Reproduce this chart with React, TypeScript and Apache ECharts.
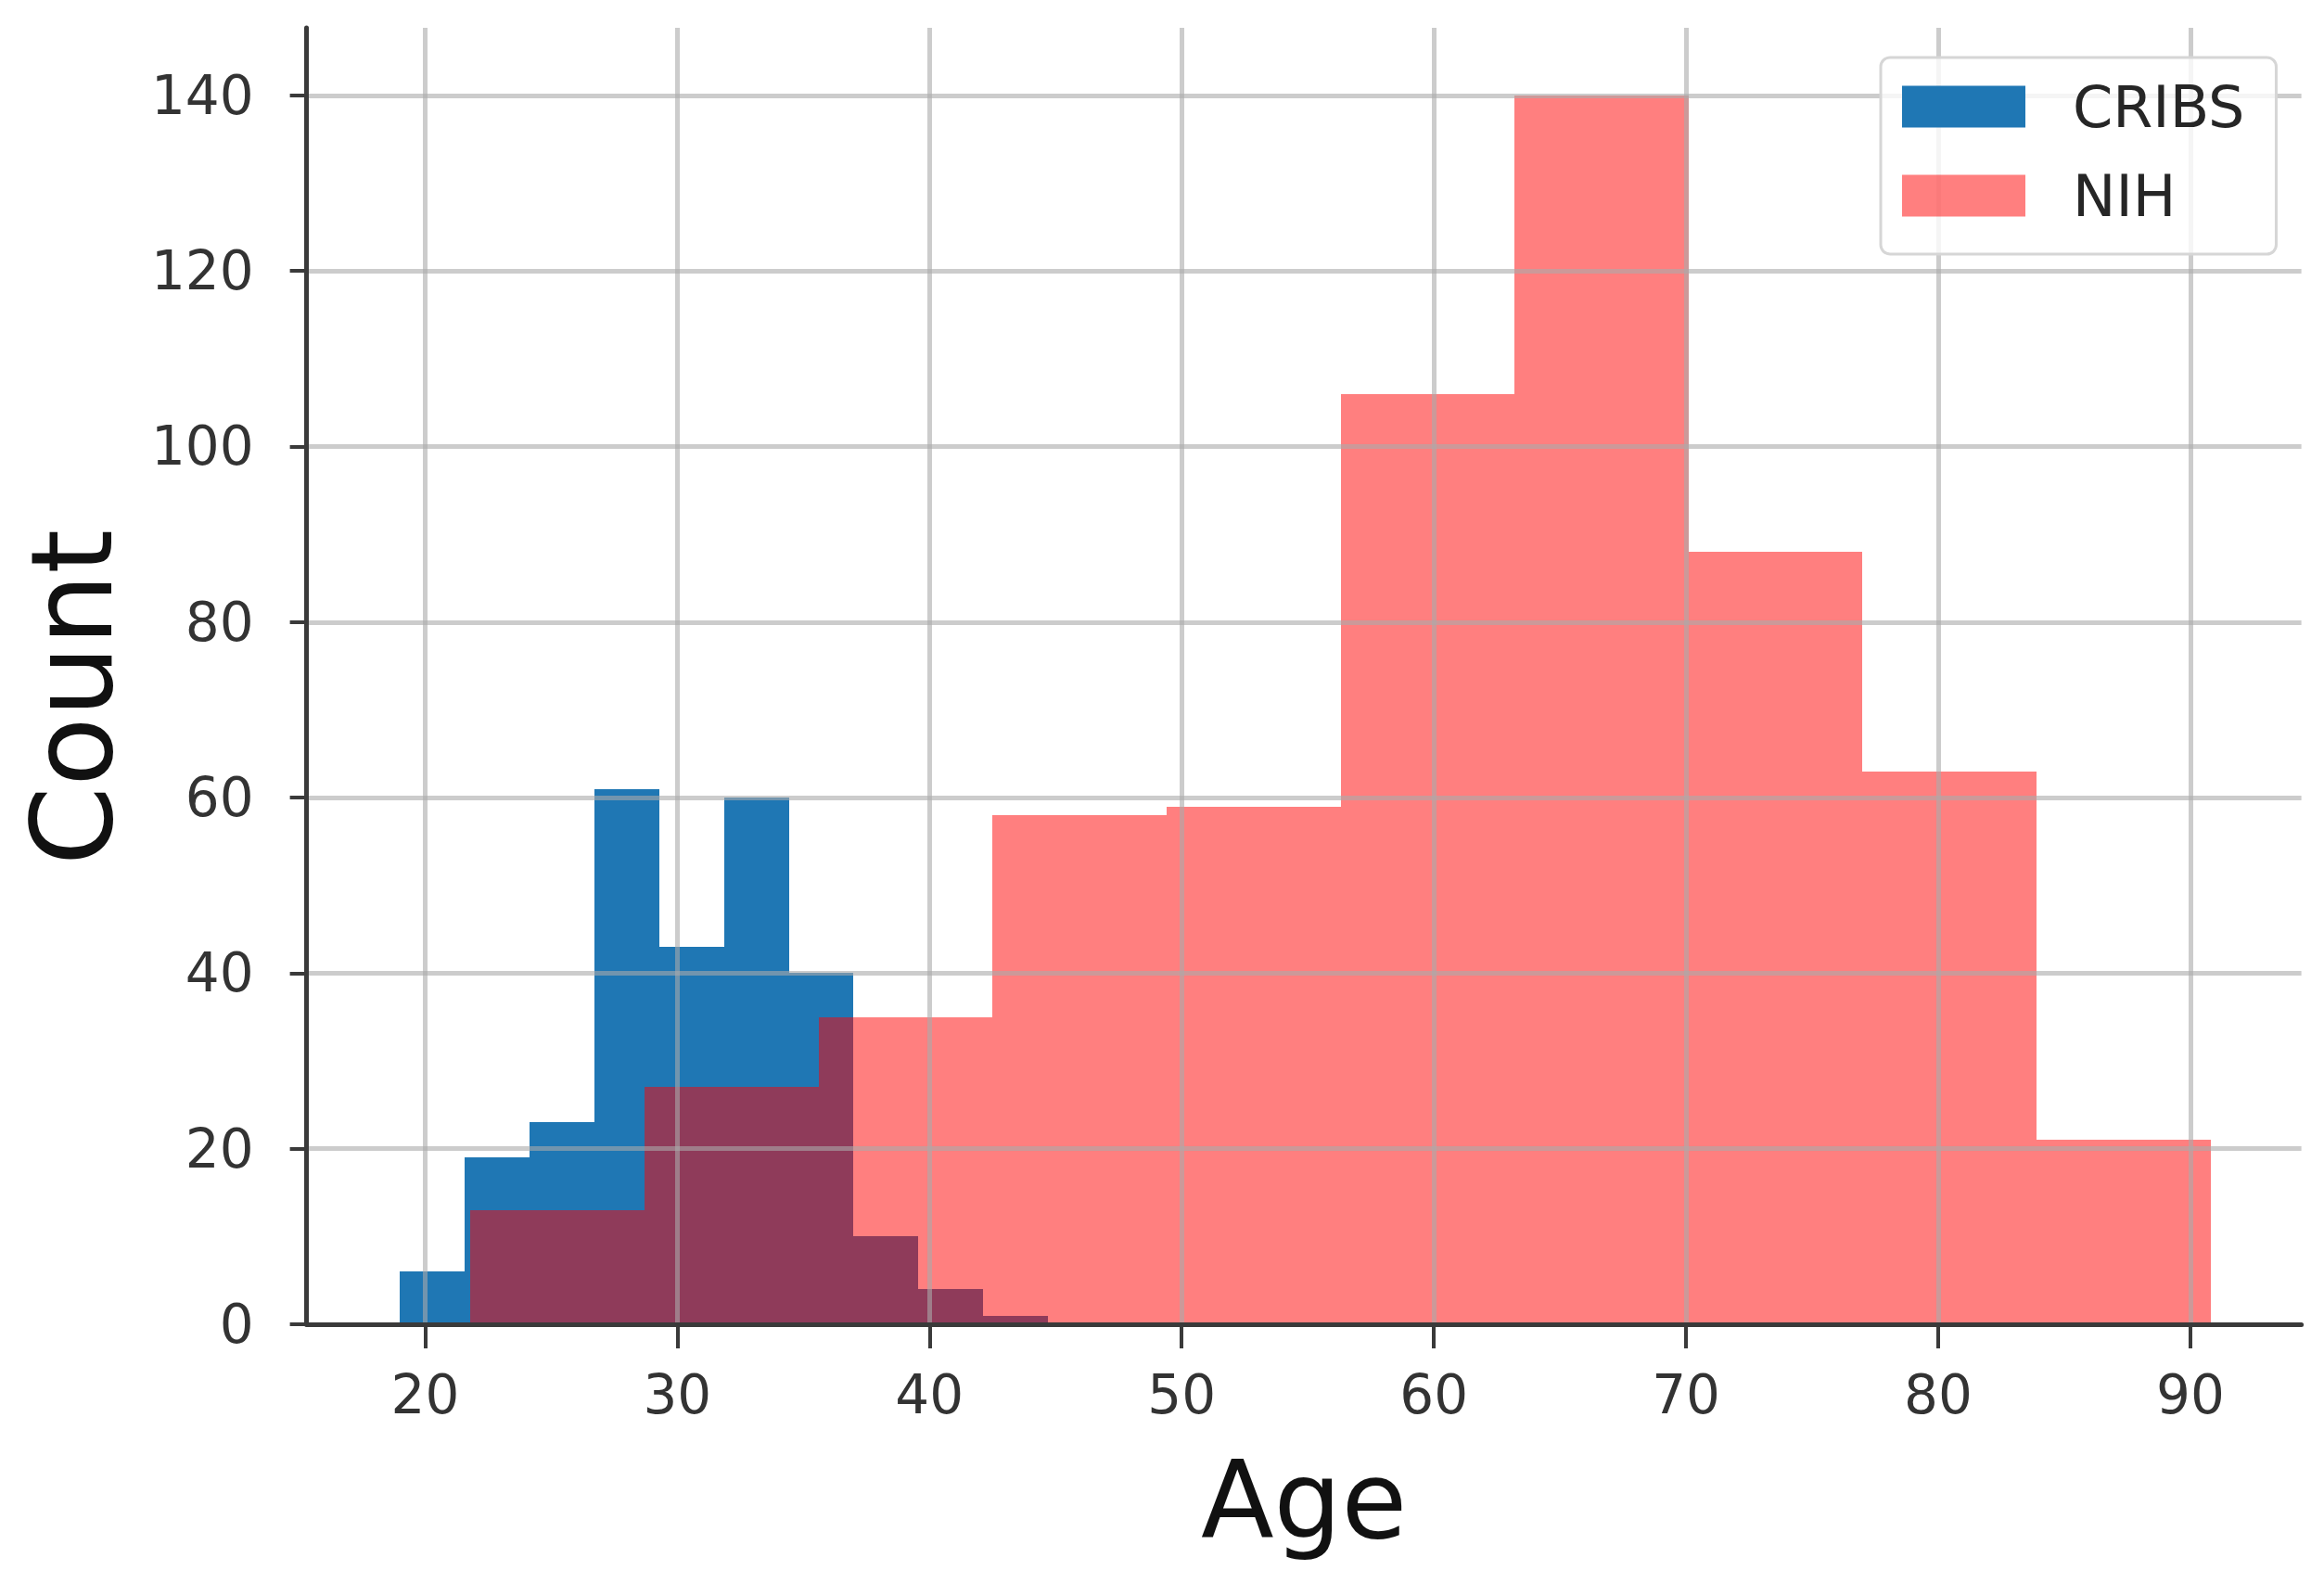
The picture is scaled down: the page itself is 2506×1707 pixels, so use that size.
import React, { useEffect, useRef } from 'react';
import * as echarts from 'echarts';

// Histogram bin edges and counts
const cribsEdges = [19.0, 21.57, 24.14, 26.71, 29.28, 31.85, 34.42, 36.99, 39.56, 42.13, 44.7];
const cribsCounts = [6, 19, 23, 61, 43, 60, 40, 10, 4, 1];
const nihEdges = [21.8, 28.7, 35.6, 42.5, 49.4, 56.3, 63.2, 70.1, 77.0, 83.9, 90.8];
const nihCounts = [13, 27, 35, 58, 59, 106, 140, 88, 63, 21];
const xTicks = [20, 30, 40, 50, 60, 70, 80, 90];
const yTicks = [0, 20, 40, 60, 80, 100, 120, 140];
const seriesNames = ['CRIBS', 'NIH'];
const xLabel = 'Age';
const yLabel = 'Count';

const FONT = 'DejaVu Sans';
const BLUE = '#1f77b4';
const RED = 'rgba(255,0,0,0.5)';
const GRID_COLOR = 'rgba(170,170,170,0.6)';
const SPINE = '#3a3a3a';

function toBins(edges: number[], counts: number[]) {
  return counts.map((c, i) => [edges[i], edges[i + 1], c]);
}

function histSeries(name: string, color: string, data: number[][], z: number) {
  return {
    type: 'custom',
    name,
    z,
    itemStyle: { color },
    encode: { x: [0, 1], y: 2 },
    data,
    renderItem: (params: any, api: any) => {
      const x0 = api.value(0);
      const x1 = api.value(1);
      const c = api.value(2);
      const p0 = api.coord([x0, c]);
      const p1 = api.coord([x1, 0]);
      const left = Math.round(p0[0]);
      const right = Math.round(p1[0]);
      const top = Math.round(p0[1]);
      const bottom = Math.round(p1[1]);
      return {
        type: 'rect',
        shape: { x: left, y: top, width: right - left, height: bottom - top },
        style: { fill: color },
      };
    },
  };
}

export default function App() {
  const ref = useRef<HTMLDivElement>(null);

  useEffect(() => {
    document.body.style.margin = '0';
    document.body.style.overflow = 'hidden';
    const chart = echarts.init(ref.current!, undefined, { renderer: 'svg' });
    const option: any = {
      animation: false,
      backgroundColor: '#ffffff',
      textStyle: { fontFamily: FONT },
      grid: {
        left: 330.6,
        right: 24.4,
        top: 30,
        bottom: 279,
        containLabel: false,
        outerBoundsMode: 'none',
      },
      legend: {
        data: seriesNames,
        orient: 'vertical',
        left: 2028,
        top: 62,
        padding: [22, 34, 32, 23],
        itemWidth: 133,
        itemHeight: 45,
        itemGap: 34,
        icon: 'rect',
        backgroundColor: 'rgba(255,255,255,0.8)',
        borderColor: '#d6d6d6',
        borderWidth: 3,
        borderRadius: 10,
        z: 10,
        textStyle: {
          fontFamily: FONT,
          fontSize: 62,
          lineHeight: 62,
          color: '#262626',
          padding: [0, 0, 0, 46],
        },
      },
      xAxis: {
        type: 'value',
        min: 15.3,
        max: 94.4,
        z: 3,
        name: xLabel,
        nameLocation: 'middle',
        nameGap: 132,
        nameTextStyle: { fontFamily: FONT, fontSize: 115, color: '#111111' },
        axisLine: { show: true, lineStyle: { color: SPINE, width: 5 } },
        axisTick: {
          show: true,
          customValues: xTicks,
          length: 26,
          lineStyle: { color: SPINE, width: 4 },
        },
        axisLabel: {
          customValues: xTicks,
          fontFamily: FONT,
          fontSize: 58,
          color: '#333333',
          margin: 47,
        },
        splitLine: { show: true, lineStyle: { color: GRID_COLOR, width: 5 } },
      },
      yAxis: {
        type: 'value',
        min: 0,
        max: 147.7,
        z: 3,
        name: yLabel,
        nameLocation: 'middle',
        nameGap: 192,
        nameRotate: 90,
        nameTextStyle: {
          fontFamily: FONT,
          fontSize: 122,
          lineHeight: 122,
          color: '#111111',
          padding: [0, 46, 0, 0],
        },
        axisLine: { show: true, lineStyle: { color: SPINE, width: 5 } },
        axisTick: {
          show: true,
          customValues: yTicks,
          length: 18,
          lineStyle: { color: SPINE, width: 4 },
        },
        axisLabel: {
          customValues: yTicks,
          fontFamily: FONT,
          fontSize: 58,
          color: '#333333',
          margin: 57,
        },
        splitLine: { show: true, lineStyle: { color: GRID_COLOR, width: 5 } },
      },
      series: [
        histSeries(seriesNames[0], BLUE, toBins(cribsEdges, cribsCounts), 1),
        histSeries(seriesNames[1], RED, toBins(nihEdges, nihCounts), 2),
      ],
    };
    chart.setOption(option);
    return () => chart.dispose();
  }, []);

  return <div ref={ref} style={{ width: 2506, height: 1707, background: '#fff' }} />;
}
